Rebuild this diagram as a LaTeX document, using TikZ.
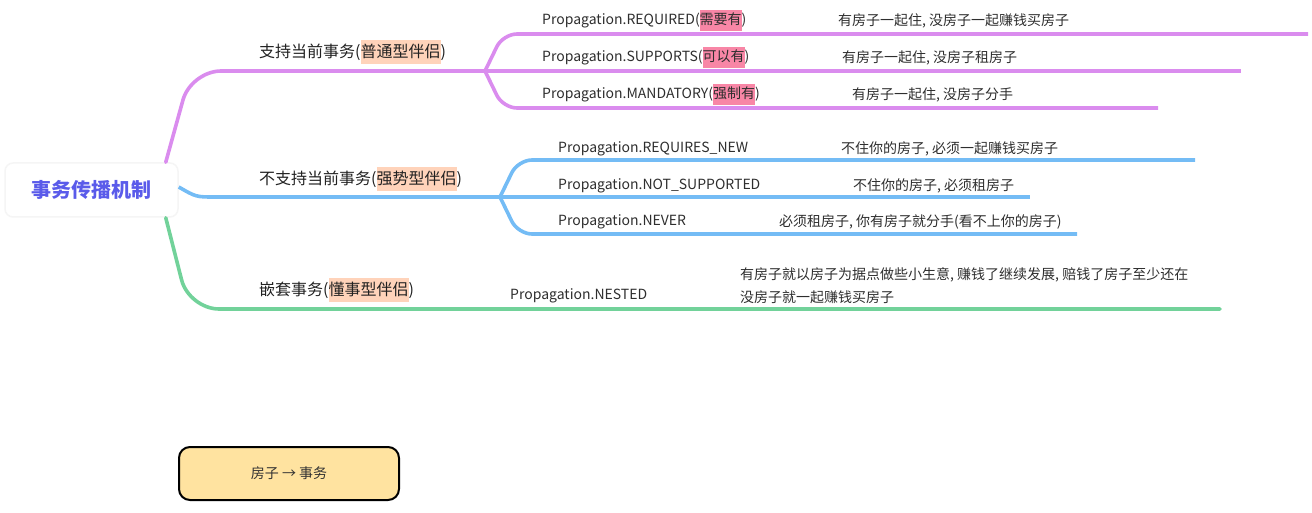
\documentclass[tikz,border=0pt]{standalone}
\usepackage{fontspec}
\setmainfont{Noto Sans CJK SC}
\definecolor{purp}{HTML}{DA8CEE}
\definecolor{blu}{HTML}{74BCF5}
\definecolor{grn}{HTML}{72D29A}
\definecolor{peach}{HTML}{FFD3BA}
\definecolor{pinkhl}{HTML}{F886A6}
\definecolor{roottxt}{HTML}{5A5BEA}
\definecolor{boxfill}{HTML}{FFE3A0}
\newcommand\hlt[2]{{\setlength\fboxsep{0pt}\colorbox{#1}{\rule[-0.43em]{0pt}{1.5em}#2}}}
\begin{document}
\begin{tikzpicture}[x=1pt,y=-1pt,
  lvone/.style={anchor=west,inner sep=0pt,text=black!87,font=\fontsize{16}{19}\selectfont},
  lvtwo/.style={anchor=west,inner sep=0pt,text=black!82,font=\fontsize{14}{17}\selectfont},
  branch/.style={line width=3.6pt,line cap=round,rounded corners=30pt},
  fork/.style={line width=3.6pt,rounded corners=14pt}]
\useasboundingbox (0,0) rectangle (1312,513);
% root
\node[draw=black!4,line width=1.5pt,fill=white,rounded corners=8pt,minimum width=173pt,minimum height=54pt,inner sep=0pt,
  text=roottxt,font=\fontsize{20}{24}\selectfont\bfseries] (root) at (91.5,190) {事务传播机制};
% coordinates
\coordinate (f1) at (485,71);
\coordinate (f2) at (500,197);
\coordinate (f3) at (1220,309);
% branches from root
\draw[branch,purp] ([xshift=-13pt]root.north east) -- (191,71) -- (f1);
\draw[line width=3.6pt,blu] ([yshift=3pt]root.east) .. controls (196,197) .. (215,197) -- (f2);
\draw[branch,grn] ([xshift=-13pt]root.south east) -- (189,309) -- (f3);
% purple fork
\coordinate (p1) at (1308,34);
\coordinate (p2) at (1241,71);
\coordinate (p3) at (1158,108);
\draw[fork,purp] (f1) -- (503,34) -- (p1);
\draw[fork,purp] (f1) -- (p2);
\draw[fork,purp] (f1) -- (503,108) -- (p3);
% blue fork
\coordinate (b1) at (1195,160);
\coordinate (b2) at (1030,197);
\coordinate (b3) at (1077,234);
\draw[fork,blu] (f2) -- (518,160) -- (b1);
\draw[fork,blu] (f2) -- (b2);
\draw[fork,blu] (f2) -- (518,234) -- (b3);
% level one labels
\node[lvone] (l1) at (259,52) {支持当前事务(\hlt{peach}{普通型伴侣})};
\node[lvone] (l2) at (259,179) {不支持当前事务(\hlt{peach}{强势型伴侣})};
\node[lvone] (l3) at (259,290) {嵌套事务(\hlt{peach}{懂事型伴侣})};
% level two labels
\node[lvtwo] (a1) at (542,20.5) {Propagation.REQUIRED(\hlt{pinkhl}{需要有})};
\node[lvtwo] (a2) at (542,57.5) {Propagation.SUPPORTS(\hlt{pinkhl}{可以有})};
\node[lvtwo] (a3) at (542,94.5) {Propagation.MANDATORY(\hlt{pinkhl}{强制有})};
\node[lvtwo] (d1) at (838,20.5) {有房子一起住, 没房子一起赚钱买房子};
\node[lvtwo] (d2) at (842,58) {有房子一起住, 没房子租房子};
\node[lvtwo] (d3) at (852,95) {有房子一起住, 没房子分手};
\node[lvtwo] (b1t) at (558,148.5) {Propagation.REQUIRES\_NEW};
\node[lvtwo] (b2t) at (558,185.5) {Propagation.NOT\_SUPPORTED};
\node[lvtwo] (b3t) at (558,221.5) {Propagation.NEVER};
\node[lvtwo] (e1) at (841,148.5) {不住你的房子, 必须一起赚钱买房子};
\node[lvtwo] (e2) at (853,185.5) {不住你的房子, 必须租房子};
\node[lvtwo] (e3) at (779,221.5) {必须租房子, 你有房子就分手(看不上你的房子)};
\node[lvtwo] (n1) at (510,296) {Propagation.NESTED};
\node[lvtwo,align=left,font=\fontsize{14}{23}\selectfont] (n2) at (740,285.5) {有房子就以房子为据点做些小生意, 赚钱了继续发展, 赔钱了房子至少还在\\没房子就一起赚钱买房子};
% legend box
\node[draw=black,line width=2pt,fill=boxfill,rounded corners=11pt,minimum width=220pt,minimum height=53pt,inner sep=0pt,
  text=black!80,font=\fontsize{14}{17}\selectfont] (legend) at (289,473.5) {房子 → 事务};
\end{tikzpicture}
\end{document}
